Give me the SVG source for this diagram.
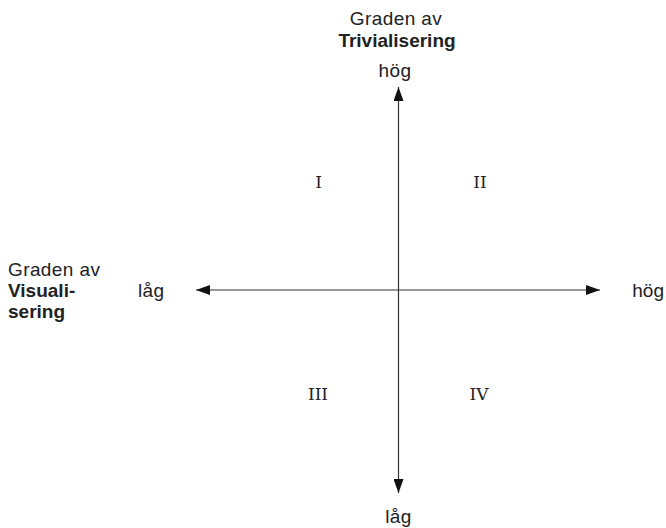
<svg xmlns="http://www.w3.org/2000/svg" width="666" height="528" viewBox="0 0 666 528">
<style>
.t{font-family:"Liberation Sans",Arial,sans-serif;font-size:19px;fill:#222;letter-spacing:0.4px}
.b{font-weight:bold;letter-spacing:0}
.r{font-family:"DejaVu Serif","Liberation Serif",serif;font-size:17px;fill:#222;text-anchor:middle}
.ax{stroke:#333;stroke-width:1.2;fill:none}
</style>
<defs>
<marker id="ah" viewBox="0 0 14 10" refX="14" refY="5" markerWidth="14" markerHeight="10" markerUnits="userSpaceOnUse" orient="auto">
<path d="M0,0 L14,5 L0,10 Z" fill="#111"/>
</marker>
</defs>
<rect width="666" height="528" fill="#fff"/>
<g id="connectors">
<line class="ax" x1="398.5" y1="290" x2="398.5" y2="87" marker-end="url(#ah)"/>
<line class="ax" x1="398.5" y1="290" x2="398.5" y2="493" marker-end="url(#ah)"/>
<line class="ax" x1="398.5" y1="290" x2="196" y2="290" marker-end="url(#ah)"/>
<line class="ax" x1="398.5" y1="290" x2="600" y2="290" marker-end="url(#ah)"/>
</g>
<g id="top-label">
<text class="t" x="396" y="25" text-anchor="middle">Graden av</text>
<text class="t b" x="397" y="47" text-anchor="middle">Trivialisering</text>
<text class="t" x="395" y="77" text-anchor="middle">hög</text>
</g>
<g id="left-label">
<text class="t" x="8" y="276">Graden av</text>
<text class="t b" x="8" y="297">Visuali-</text>
<text class="t b" x="8" y="318">sering</text>
<text class="t" x="138" y="297">låg</text>
</g>
<g id="right-label"><text class="t" x="664" y="297" text-anchor="end" style="letter-spacing:0">hög</text></g>
<g id="bottom-label"><text class="t" x="398.5" y="523" text-anchor="middle">låg</text></g>
<g id="q1"><text class="r" x="318.5" y="188">I</text></g>
<g id="q2"><text class="r" x="480" y="188">II</text></g>
<g id="q3"><text class="r" x="318" y="400">III</text></g>
<g id="q4"><text class="r" x="479" y="400">IV</text></g>
</svg>
